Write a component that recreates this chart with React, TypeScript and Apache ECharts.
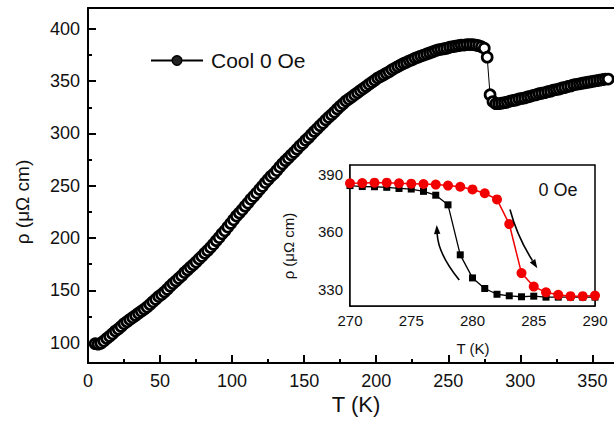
import React, { useEffect, useRef } from "react";
import * as echarts from "echarts";

// Main curve: cooling in 0 Oe
const mainT = [
  5, 7, 9, 11, 13, 15, 17, 19, 21, 23,
  25, 27, 29, 31, 33, 35, 37, 39, 41, 43,
  45, 47, 49, 51, 53, 55, 57, 59, 61, 63,
  65, 67, 69, 71, 73, 75, 77, 79, 81, 83,
  85, 87, 89, 91, 93, 95, 97, 99, 101, 103,
  105, 107, 109, 111, 113, 115, 117, 119, 121, 123,
  125, 127, 129, 131, 133, 135, 137, 139, 141, 143,
  145, 147, 149, 151, 153, 155, 157, 159, 161, 163,
  165, 167, 169, 171, 173, 175, 177, 179, 181, 183,
  185, 187, 189, 191, 193, 195, 197, 199, 201, 203,
  205, 207, 209, 211, 213, 215, 217, 219, 221, 223,
  225, 227, 229, 231, 233, 235, 237, 239, 241, 243,
  245, 247, 249, 251, 253, 255, 257, 259, 261, 263,
  265, 267, 269, 271, 273, 275, 277, 279, 281, 283,
  285, 287, 289, 291, 293, 295, 297, 299, 301, 303,
  305, 307, 309, 311, 313, 315, 317, 319, 321, 323,
  325, 327, 329, 331, 333, 335, 337, 339, 341, 343,
  345, 347, 349, 351, 353, 355, 357, 359, 361,
];
const mainRho = [
  99, 98.5, 99.5, 101.5, 104, 106, 108.5, 111, 113, 115.5,
  118, 120, 122, 124, 126, 128, 130, 132, 134, 136.5,
  139, 141.5, 144, 146, 148.5, 151, 154, 156.5, 159, 161.5,
  164, 167, 169.5, 172, 174.5, 177, 180, 182.5, 185.5, 188,
  191, 194, 197.5, 200.5, 204, 207, 210.5, 214, 217.5, 221,
  224, 227, 230.5, 233.5, 237, 240, 243, 246.5, 249.5, 253,
  256, 259, 261.5, 264.5, 268, 271, 274, 276.5, 279.5, 282,
  285, 288, 290.5, 293.5, 296, 299, 302, 304.5, 307.5, 310,
  313, 315.5, 318, 320.5, 323.5, 326, 328.5, 331, 333, 335,
  337, 339, 341, 343, 345, 347, 349, 351, 353, 354.5,
  356, 357.5, 359, 361, 362.5, 364, 365.5, 367, 368, 369.5,
  370.5, 372, 373, 374, 375, 376, 377, 378, 379, 380,
  380.5, 381, 381.5, 382.5, 383, 383.5, 384, 384.5, 384.5, 385,
  385, 385, 384.5, 384, 383, 381.5, 373, 337, 330.5, 328.5,
  328.5, 329, 329.5, 330, 331, 331.5, 332, 333, 333.5, 334,
  335, 335.5, 336.5, 337, 338, 338.5, 339, 340, 340.5, 341.5,
  342, 342.5, 343.5, 344, 345, 345.5, 346.5, 347, 347.5, 348,
  348.5, 349, 349.5, 350, 350.5, 351, 351.5, 352, 352,
];

// Inset: 270–290 K
const insetT = [270, 271, 272, 273, 274, 275, 276, 277, 278, 279, 280, 281, 282, 283, 284, 285, 286, 287, 288, 289, 290];
const insetCool = [384, 383.5, 383.4, 383.1, 382.5, 382.2, 381, 379, 374, 348, 336, 330.5, 327.5, 326.7, 326.2, 326.5, 326, 326, 326, 326, 326];
const insetHeat = [385.2, 385.3, 385.5, 385.5, 385.2, 385, 384.8, 384.5, 384, 383.4, 382, 380, 376.8, 364, 338.5, 331.5, 328.5, 327.2, 326.5, 326.5, 326.8];

// Ticks
const mainXTicks = [0, 50, 100, 150, 200, 250, 300, 350];
const mainXMinor = [25, 75, 125, 175, 225, 275, 325];
const mainYTicks = [100, 150, 200, 250, 300, 350, 400];
const mainYMinor = [125, 175, 225, 275, 325, 375];
const insetXTicks = [270, 275, 280, 285, 290];
const insetXMinor = [272.5, 277.5, 282.5, 287.5];
const insetYTicks = [330, 360, 390];
const insetYMinor = [345, 375];

// Arrow annotations in inset data coordinates: [tail, control, head]
const coolArrow = [[278.92, 334.9], [277.2, 348.4], [277.08, 363.5]];
const heatArrow = [[283.06, 371.6], [283.63, 357.8], [285.29, 341.0]];

const FONT = "'Liberation Sans', Arial, sans-serif";
const TXT = "#111";

export default function App() {
  const ref = useRef<HTMLDivElement>(null);
  useEffect(() => {
    if (!ref.current) return;
    const chart = echarts.init(ref.current, undefined, { renderer: "svg" });

    const majorAxis = (extra: any, ticks: number[], len: number, fontSize: number, lw: number, margin: number) => ({
      type: "value",
      splitLine: { show: false },
      axisLine: { show: true, onZero: false, lineStyle: { color: "#000", width: lw } },
      axisTick: { show: true, inside: true, length: len, customValues: ticks, lineStyle: { color: "#000", width: lw } },
      axisLabel: { show: true, customValues: ticks, fontSize, color: TXT, fontFamily: FONT, margin },
      ...extra,
    });
    const minorAxis = (extra: any, ticks: number[], len: number, lw: number) => ({
      type: "value",
      splitLine: { show: false },
      axisLine: { show: false },
      axisTick: { show: true, inside: true, length: len, customValues: ticks, lineStyle: { color: "#000", width: lw } },
      axisLabel: { show: false },
      ...extra,
    });

    const mainData = mainT.map((t, i) => [t, mainRho[i]]);
    const coolData = insetT.map((t, i) => [t, insetCool[i]]);
    const heatData = insetT.map((t, i) => [t, insetHeat[i]]);

    chart.setOption({
      animation: false,
      backgroundColor: "#fff",
      textStyle: { fontFamily: FONT },
      grid: [
        { left: 88, top: 8, right: 0, bottom: 65 },
        { left: 350, top: 165, width: 245, height: 141, show: true, backgroundColor: "#fff", borderColor: "#000", borderWidth: 1.5, z: 5 },
      ],
      legend: {
        data: [{ name: "Cool 0 Oe", itemStyle: { color: "#222", borderColor: "#000", borderWidth: 1.5 } }],
        left: 150,
        top: 50,
        padding: 0,
        itemWidth: 52,
        itemHeight: 12,
        textStyle: { fontSize: 21, color: TXT, fontFamily: FONT, padding: [0, 0, 0, 3] },
      },
      xAxis: [
        majorAxis({ gridIndex: 0, min: 0, max: 365, position: "bottom" }, mainXTicks, 8, 18, 2, 9),
        minorAxis({ gridIndex: 0, min: 0, max: 365, position: "bottom" }, mainXMinor, 4, 2),
        { type: "value", gridIndex: 0, min: 0, max: 365, position: "top", splitLine: { show: false }, axisTick: { show: false }, axisLabel: { show: false }, axisLine: { show: true, lineStyle: { color: "#000", width: 2 } } },
        majorAxis({ gridIndex: 1, min: 270, max: 290, position: "bottom" }, insetXTicks, 5, 15, 1.5, 7),
        minorAxis({ gridIndex: 1, min: 270, max: 290, position: "bottom" }, insetXMinor, 3, 1.5),
      ],
      yAxis: [
        majorAxis({ gridIndex: 0, min: 80.5, max: 420, position: "left" }, mainYTicks, 8, 18, 2, 8),
        minorAxis({ gridIndex: 0, min: 80.5, max: 420, position: "left" }, mainYMinor, 4, 2),
        majorAxis({ gridIndex: 1, min: 321.4, max: 394.7, position: "left" }, insetYTicks, 5, 15, 1.5, 7),
        minorAxis({ gridIndex: 1, min: 321.4, max: 394.7, position: "left" }, insetYMinor, 3, 1.5),
      ],
      series: [
        {
          name: "Cool 0 Oe",
          type: "line",
          xAxisIndex: 0,
          yAxisIndex: 0,
          data: mainData,
          showAllSymbol: true,
          symbol: "circle",
          symbolSize: 10,
          itemStyle: { color: "#fff", borderColor: "#000", borderWidth: 2.7 },
          lineStyle: { color: "#000", width: 1 },
        },
        {
          name: "Cool inset",
          type: "line",
          xAxisIndex: 3,
          yAxisIndex: 2,
          data: coolData,
          symbol: "rect",
          symbolSize: 7,
          itemStyle: { color: "#000" },
          lineStyle: { color: "#000", width: 1.3 },
          z: 6,
        },
        {
          name: "Heat inset",
          type: "line",
          xAxisIndex: 3,
          yAxisIndex: 2,
          data: heatData,
          symbol: "circle",
          symbolSize: 10,
          itemStyle: { color: "#f20000" },
          lineStyle: { color: "#f20000", width: 1.5 },
          z: 7,
        },
      ],
    });

    const px = (p: number[]) => chart.convertToPixel({ xAxisIndex: 3, yAxisIndex: 2 }, p) as number[];
    const arrow = (pts: number[][]) => {
      const [a, c, h] = pts.map(px);
      const dx = h[0] - c[0];
      const dy = h[1] - c[1];
      const L = Math.sqrt(dx * dx + dy * dy) || 1;
      const ux = dx / L, uy = dy / L;
      const hl = 9, hw = 3.2;
      const bx = h[0] - ux * hl, by = h[1] - uy * hl;
      return [
        {
          type: "bezierCurve",
          z: 20,
          shape: { x1: a[0], y1: a[1], cpx1: c[0], cpy1: c[1], x2: bx, y2: by },
          style: { stroke: "#000", lineWidth: 1.6, fill: "none" },
        },
        {
          type: "polygon",
          z: 20,
          shape: { points: [[h[0], h[1]], [bx - uy * hw, by + ux * hw], [bx + uy * hw, by - ux * hw]] },
          style: { fill: "#000" },
        },
      ];
    };

    chart.setOption({
      graphic: [
        {
          type: "text", x: 22, y: 202, rotation: Math.PI / 2,
          style: { text: "ρ (μΩ cm)", font: `19px ${FONT}`, fill: TXT, align: "center", verticalAlign: "middle" },
        },
        {
          type: "text", x: 356, y: 404,
          style: { text: "T (K)", font: `22px ${FONT}`, fill: TXT, align: "center", verticalAlign: "middle" },
        },
        {
          type: "text", x: 288, y: 246, rotation: Math.PI / 2, z: 20,
          style: { text: "ρ (μΩ cm)", font: `15px ${FONT}`, fill: TXT, align: "center", verticalAlign: "middle" },
        },
        {
          type: "text", x: 473, y: 348, z: 20,
          style: { text: "T (K)", font: `15px ${FONT}`, fill: TXT, align: "center", verticalAlign: "middle" },
        },
        {
          type: "text", x: 558, y: 190, z: 20,
          style: { text: "0 Oe", font: `18px ${FONT}`, fill: TXT, align: "center", verticalAlign: "middle" },
        },
        ...arrow(coolArrow),
        ...arrow(heatArrow),
      ],
    });

    return () => chart.dispose();
  }, []);

  return <div ref={ref} style={{ position: "absolute", left: 0, top: 0, width: 614, height: 428 }} />;
}
